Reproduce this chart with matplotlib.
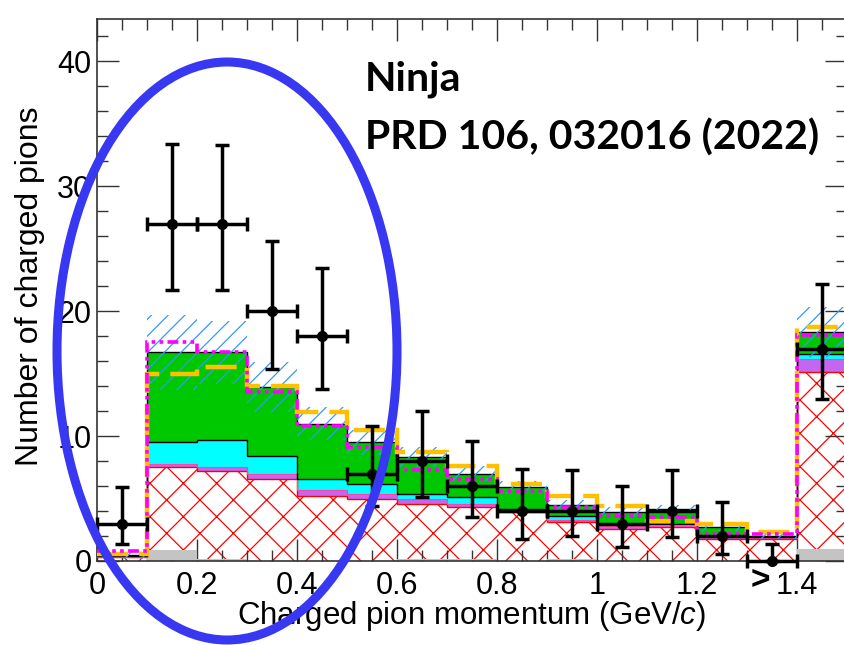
import numpy as np
import matplotlib.pyplot as plt
from matplotlib.patches import Ellipse
from matplotlib.ticker import MultipleLocator

plt.rcParams['font.family'] = ['Liberation Sans', 'DejaVu Sans']
plt.rcParams['mathtext.fontset'] = 'custom'
plt.rcParams['mathtext.it'] = 'Liberation Sans:italic'
plt.rcParams['mathtext.rm'] = 'Liberation Sans'
plt.rcParams['hatch.linewidth'] = 0.9

# bin edges (last bin is the >1.4 overflow)
edges = [0.0, 0.1, 0.2, 0.3, 0.4, 0.5, 0.6, 0.7, 0.8, 0.9, 1.0, 1.1, 1.2, 1.3, 1.4, 1.5]
xtick_pos = [0, 0.2, 0.4, 0.6, 0.8, 1.0, 1.2, 1.4]
xtick_lab = ['0', '0.2', '0.4', '0.6', '0.8', '1', '1.2', '1.4']

# stacked MC components
red = [0.3, 7.5, 7.2, 6.6, 5.2, 5.0, 4.6, 4.3, 3.9, 3.1, 2.6, 2.7, 1.8, 1.8, 15.1]
violet = [0.05, 0.3, 0.3, 0.4, 0.5, 0.4, 0.4, 0.3, 0.1, 0.2, 0.2, 0.1, 0.1, 0.05, 1.1]
cyan = [0.05, 1.7, 2.2, 1.4, 0.9, 0.8, 0.4, 0.5, 0.2, 0.3, 0.2, 0.2, 0.1, 0.05, 0.4]
green = [0.1, 7.2, 7.0, 5.5, 4.4, 3.3, 2.9, 1.9, 1.7, 0.9, 0.9, 1.2, 0.7, 0.1, 1.7]
gray = [0, 0.9, 0.15, 0, 0, 0, 0.15, 0.15, 0, 0.15, 0, 0, 0, 0, 1.0]
syst = [0.3, 3.0, 2.5, 2.0, 1.3, 1.0, 0.8, 0.6, 0.5, 0.4, 0.4, 0.3, 0.3, 0.2, 2.0]

# other model predictions
magenta_line = [0.8, 17.5, 16.7, 13.5, 10.8, 9.1, 7.3, 6.6, 5.6, 4.3, 3.6, 3.5, 2.2, 2.2, 18.1]
yellow_line = [0.6, 15.0, 15.5, 14.0, 11.9, 10.5, 8.7, 7.6, 6.2, 5.2, 4.4, 3.2, 3.0, 2.3, 18.7]

# data
data = [3, 27, 27, 20, 18, 7, 8, 6, 4, 4, 3, 4, 2, 0, 17]
err_up = [2.9, 6.4, 6.3, 5.6, 5.5, 3.8, 4.0, 3.6, 3.4, 3.3, 3.0, 3.3, 2.7, 1.4, 5.2]
err_dn = [1.6, 5.3, 5.3, 4.6, 4.2, 2.6, 2.9, 2.5, 2.2, 2.0, 1.9, 2.1, 1.4, 0, 4.0]

edges = np.array(edges)
centers = (edges[:-1] + edges[1:]) / 2
half = np.diff(edges) / 2
c1 = np.array(red)
c2 = c1 + np.array(violet)
c3 = c2 + np.array(cyan)
c4 = c3 + np.array(green)
syst = np.array(syst)

fig = plt.figure(figsize=(8.44, 6.45), dpi=100)
ax = fig.add_axes([97 / 844, 84 / 645, 750 / 844, 542 / 645])

ax.stairs(c1, edges, baseline=0, fill=True, facecolor='none', edgecolor='red', hatch='x', linewidth=0, zorder=1)
ax.stairs(c2, edges, baseline=c1, fill=True, color='#c466f0', linewidth=0, zorder=2)
ax.stairs(c3, edges, baseline=c2, fill=True, color='#00ffff', linewidth=0, zorder=2)
ax.stairs(c4, edges, baseline=c3, fill=True, color='#00c800', linewidth=0, zorder=2)
ax.stairs(gray, edges, baseline=0, fill=True, color='#c4c4c4', linewidth=0, zorder=2)
ax.stairs(c1, edges, baseline=None, color='red', linewidth=1.0, zorder=3)
ax.stairs(c2, edges, baseline=None, color='#ff44aa', linewidth=0.8, zorder=3)
ax.stairs(c3, edges, baseline=None, color='black', linewidth=1.0, zorder=3)
ax.stairs(c4, edges, baseline=None, color='black', linewidth=1.0, zorder=3)
ax.stairs(c4 + syst, edges, baseline=c4 - syst, fill=True, facecolor='none', edgecolor='#3399ff',
          hatch='//', linewidth=0, zorder=4)
ax.stairs(yellow_line, edges, baseline=None, color='#ffc000', linewidth=3.2,
          linestyle=(0, (7, 2.5)), zorder=5)
ax.stairs(magenta_line, edges, baseline=None, color='#ff00ff', linewidth=2.6,
          linestyle=(0, (3, 1.2, 1, 1.2, 1, 1.2)), zorder=5)

ax.errorbar(centers, data, xerr=half, yerr=[err_dn, err_up], fmt='o', color='black',
            ms=7, elinewidth=2.5, capsize=5, capthick=2.5, zorder=6, clip_on=False)

ax.set_xlim(0, 1.5)
ax.set_ylim(0, 43.4)
ax.set_xticks(xtick_pos)
ax.set_xticklabels(xtick_lab)
ax.set_yticks([0, 10, 20, 30, 40])
ax.xaxis.set_minor_locator(MultipleLocator(0.05))
ax.yaxis.set_minor_locator(MultipleLocator(2))
ax.tick_params(which='both', direction='in', top=True, right=True, width=1, color='#333333')
ax.tick_params(which='major', length=16, labelsize=22)
ax.tick_params(which='minor', length=8)
ax.tick_params(axis='x', pad=7)
ax.tick_params(axis='y', pad=4)
for s in ax.spines.values():
    s.set_linewidth(1.2)
    s.set_color('#333333')

fig.text(760 / 844, 1 - 581 / 645, '>', fontsize=24, fontweight='bold', ha='center', va='center')
fig.text(472 / 844, 1 - 624 / 645, 'Charged pion momentum (GeV/$c$)', fontsize=22.5,
         ha='center', va='baseline')
fig.text(30 / 844, 1 - 286 / 645, 'Number of charged pions', fontsize=23, rotation=90,
         ha='center', va='center')

fig.text(365 / 844, 1 - 90 / 645, 'Ninja', fontsize=29.5, fontweight='bold',
         family='Lato', ha='left', va='baseline')
fig.text(365 / 844, 1 - 150 / 645, 'PRD 106, 032016 (2022)', fontsize=29.5, fontweight='bold',
         family='Lato', ha='left', va='baseline')

fig.add_artist(Ellipse((2.27, 6.45 - 3.51), 3.40, 5.78, transform=fig.dpi_scale_trans,
                       fill=False, edgecolor='#3838f2', linewidth=6.5, zorder=10))

fig.savefig('out.png', dpi=100)
